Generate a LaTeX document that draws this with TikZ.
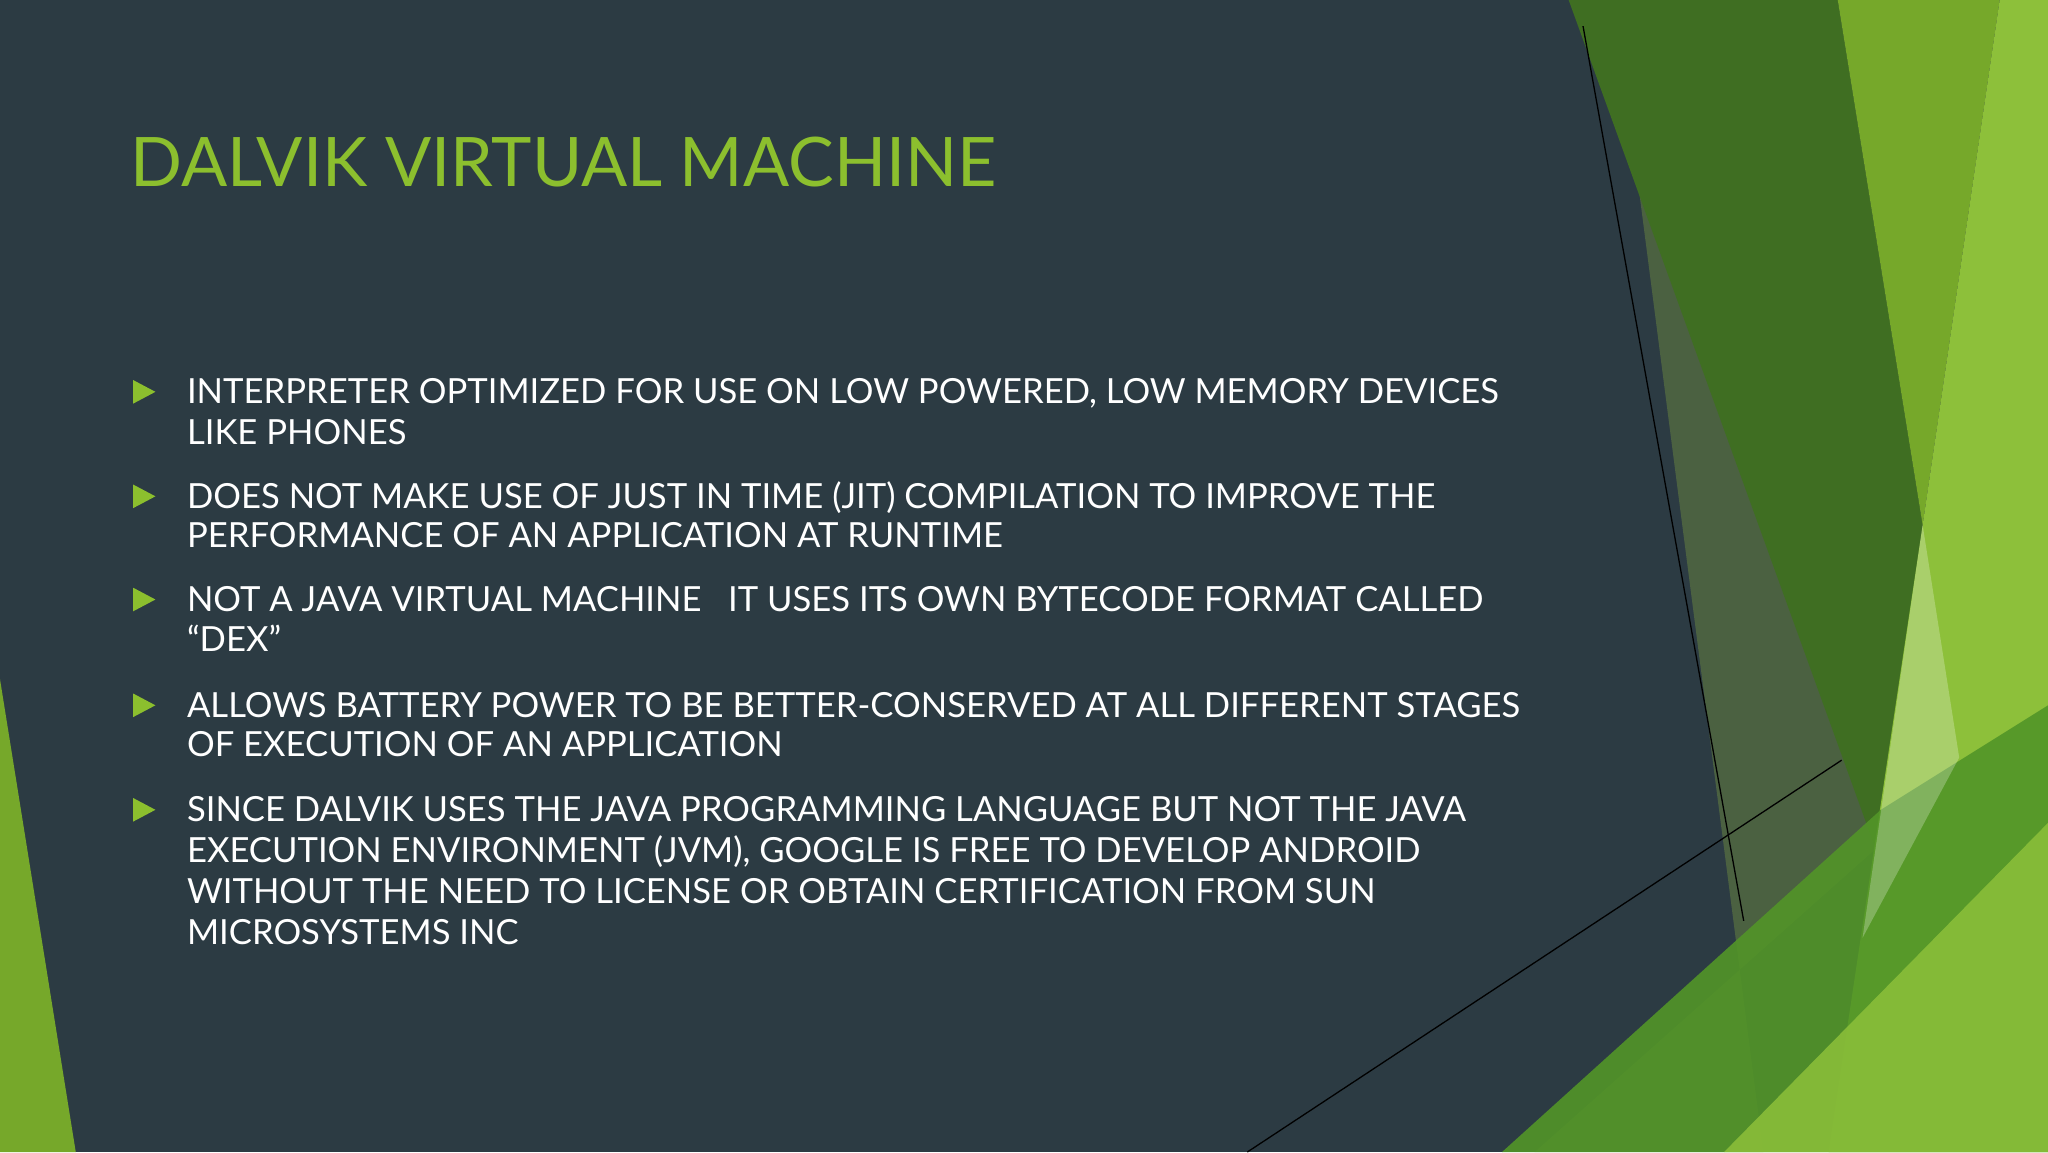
\documentclass[tikz,border=0pt]{standalone}
\usepackage{fontspec}
\setmainfont{Lato}
\begin{document}
\begin{tikzpicture}[x=1bp,y=-1bp,
  bl/.style={anchor=base west,inner sep=0,text=white,font=\fontsize{26.6}{30}\selectfont},
  bul/.style={fill=tgreen}]
\definecolor{bg}{HTML}{2C3B43}
\definecolor{tgreen}{HTML}{8CBF2E}
\definecolor{dg}{HTML}{3F6E22}
\definecolor{mg}{HTML}{76A82A}
\definecolor{lg}{HTML}{8DC03A}
\definecolor{bgreen}{HTML}{529528}
\definecolor{olive}{HTML}{7A9A40}
\fill[bg] (0,0) rectangle (1568,882);
\useasboundingbox (0,0) rectangle (1568,882);
% left shard
\fill[mg] (0,520) -- (58,882) -- (0,882) -- cycle;
% right shards
\fill[olive,opacity=.4] (1236,0) -- (1436,650) -- (1175,882) -- (1350,882) -- cycle;
\fill[dg] (1201,0) -- (1407,0) -- (1472,402) -- (1436,650) -- cycle;
\fill[mg] (1407,0) -- (1531,0) -- (1472,402) -- cycle;
\fill[lg] (1531,0) -- (1568,0) -- (1568,882) -- (1400,882) -- (1472,402) -- cycle;
\fill[bgreen,opacity=.9] (1150,882) -- (1440,620) -- (1568,540) -- (1568,882) -- cycle;
\fill[lg,opacity=.85] (1320,882) -- (1568,630) -- (1568,882) -- cycle;
\fill[white,opacity=.25] (1472,402) -- (1500,580) -- (1426,718) -- cycle;
\draw[black,line width=1] (1212,20) -- (1335,705);
\draw[black,line width=1] (955,882) -- (1410,582);
% title
\node[anchor=base west,inner sep=0,text=tgreen,font=\fontsize{52.5}{56}\selectfont] (title) at (100,143) {DALVIK VIRTUAL MACHINE};
% bullets
\foreach \y [count=\i] in {309,389,468,549,629}
  \fill[bul] (102,\y-18) -- (119,\y-9) -- (102,\y) -- cycle;
\node[bl] (a1) at (143,309) {INTERPRETER OPTIMIZED FOR USE ON LOW POWERED, LOW MEMORY DEVICES};
\node[bl] (a2) at (143,340) {LIKE PHONES};
\node[bl] (b1) at (143,389) {DOES NOT MAKE USE OF JUST IN TIME (JIT) COMPILATION TO IMPROVE THE};
\node[bl] (b2) at (143,419) {PERFORMANCE OF AN APPLICATION AT RUNTIME};
\node[bl] (c1) at (143,468) {NOT A JAVA VIRTUAL MACHINE\ \ \ IT USES ITS OWN BYTECODE FORMAT CALLED};
\node[bl] (c2) at (143,499) {“DEX”};
\node[bl] (d1) at (143,549) {ALLOWS BATTERY POWER TO BE BETTER-CONSERVED AT ALL DIFFERENT STAGES};
\node[bl] (d2) at (143,579) {OF EXECUTION OF AN APPLICATION};
\node[bl] (e1) at (143,629) {SINCE DALVIK USES THE JAVA PROGRAMMING LANGUAGE BUT NOT THE JAVA};
\node[bl] (e2) at (143,660) {EXECUTION ENVIRONMENT (JVM), GOOGLE IS FREE TO DEVELOP ANDROID};
\node[bl] (e3) at (143,692) {WITHOUT THE NEED TO LICENSE OR OBTAIN CERTIFICATION FROM SUN};
\node[bl] (e4) at (143,723) {MICROSYSTEMS INC};
\end{tikzpicture}
\end{document}
